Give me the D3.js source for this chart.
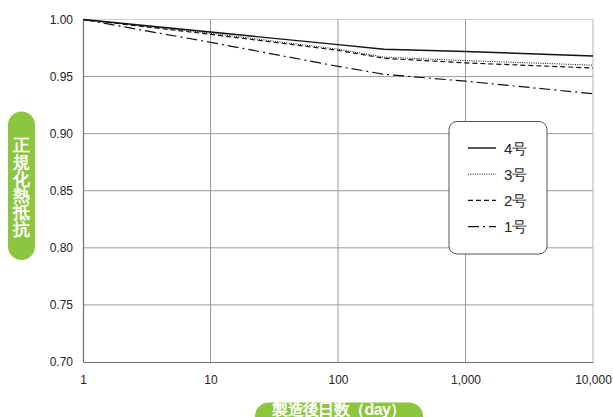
<!DOCTYPE html>
<html>
<head>
<meta charset="utf-8">
<script src="https://cdn.jsdelivr.net/npm/d3@7"></script>
<style>
  body { margin: 0; background: #fff; }
  text { font-family: "Liberation Sans", Arial, sans-serif; }
</style>
</head>
<body>
<script>
// days after manufacture and normalized thermal resistance
const days = [1, 10, 100, 230, 1000, 10000]
const no4 = [1.000, 0.989, 0.978, 0.974, 0.972, 0.968]
const no3 = [1.000, 0.988, 0.974, 0.967, 0.964, 0.960]
const no2 = [1.000, 0.987, 0.973, 0.966, 0.962, 0.9575]
const no1 = [1.000, 0.980, 0.959, 0.952, 0.946, 0.935]
const seriesNames = ['4号', '3号', '2号', '1号']
const xTicks = [1, 10, 100, 1000, 10000]
const yTicks = [0.70, 0.75, 0.80, 0.85, 0.90, 0.95, 1.00]

const m = { left: 83, right: 593, top: 19.5, bottom: 362 }

const svg = d3.select('body').append('svg')
    .attr('width', 613)
    .attr('height', 417)

const x = d3.scaleLog().domain([1, 10000]).range([m.left, m.right])
const y = d3.scaleLinear().domain([0.70, 1.00]).range([m.bottom, m.top])

// grid
svg.append('g').selectAll('line')
    .data(yTicks.slice(1))
    .enter()
    .append('line')
        .attr('x1', m.left).attr('x2', m.right)
        .attr('y1', d => y(d)).attr('y2', d => y(d))
        .attr('stroke', d => d === 1 ? '#cfcfcf' : '#9a9a9a')
        .attr('stroke-width', 1)

svg.append('g').selectAll('line')
    .data(xTicks.slice(1))
    .enter()
    .append('line')
        .attr('x1', d => x(d)).attr('x2', d => x(d))
        .attr('y1', m.top).attr('y2', m.bottom)
        .attr('stroke', d => d === 10000 ? '#b5b5b5' : '#9a9a9a')
        .attr('stroke-width', 1)

// axes
const fmt = d3.format(',')
const xAxis = svg.append('g')
    .attr('transform', `translate(0,${m.bottom})`)
    .call(d3.axisBottom(x).tickValues(xTicks).tickFormat(fmt).tickSize(0).tickPadding(13))
xAxis.select('.domain').attr('stroke', '#6e6e6e').attr('stroke-width', 1.2)
xAxis.selectAll('text').attr('font-size', 12).attr('fill', '#222')

const yAxis = svg.append('g')
    .attr('transform', `translate(${m.left},0)`)
    .call(d3.axisLeft(y).tickValues(yTicks).tickFormat(d3.format('.2f')).tickSize(0).tickPadding(10))
yAxis.select('.domain').attr('stroke', '#6e6e6e').attr('stroke-width', 1.2)
yAxis.selectAll('text').attr('font-size', 12).attr('fill', '#222')

// lines
const styles = [
    { data: no4, dash: null, w: 1.4 },
    { data: no3, dash: '1,1.3', w: 1 },
    { data: no2, dash: '5,3', w: 1.2 },
    { data: no1, dash: '11,4,2,4', w: 1.2 }
]

const line = d3.line()
    .x((d, i) => x(days[i]))
    .y(d => y(d))

svg.append('g').selectAll('path')
    .data(styles)
    .enter()
    .append('path')
        .attr('d', d => line(d.data))
        .attr('fill', 'none')
        .attr('stroke', '#111')
        .attr('stroke-width', d => d.w)
        .attr('stroke-dasharray', d => d.dash)

// legend
const lg = svg.append('g')
lg.append('rect')
    .attr('x', 449).attr('y', 121.5)
    .attr('width', 98).attr('height', 132.5)
    .attr('rx', 8)
    .attr('fill', '#fff')
    .attr('stroke', '#555')
    .attr('stroke-width', 1)

const rows = lg.selectAll('.row')
    .data(styles)
    .enter()
    .append('g')
        .attr('transform', (d, i) => `translate(0,${148 + i * 26.2})`)

rows.append('line')
    .attr('x1', 468).attr('x2', 496)
    .attr('stroke', '#111')
    .attr('stroke-width', d => d.w)
    .attr('stroke-dasharray', d => d.dash)

rows.append('text')
    .attr('x', 504).attr('y', 5.5)
    .attr('font-size', 15)
    .attr('font-weight', 500)
    .attr('font-family', '"Noto Sans CJK JP", sans-serif')
    .attr('fill', '#222')
    .text((d, i) => seriesNames[i])

// axis title pills
const green = '#8cc63e'
svg.append('rect')
    .attr('x', 8).attr('y', 111.5)
    .attr('width', 27).attr('height', 148.5)
    .attr('rx', 13.5)
    .attr('fill', green)

const yTitle = '正規化熱抵抗'.split('')
svg.append('g').selectAll('text')
    .data(yTitle)
    .enter()
    .append('text')
        .attr('x', 21.5)
        .attr('y', (d, i) => 151 + i * 16.8)
        .attr('text-anchor', 'middle')
        .attr('font-size', 16.5)
        .attr('font-weight', 'bold')
        .attr('font-family', '"Noto Sans CJK JP", sans-serif')
        .attr('fill', '#fff')
        .text(d => d)

svg.append('rect')
    .attr('x', 255).attr('y', 402.5)
    .attr('width', 168).attr('height', 28)
    .attr('rx', 14)
    .attr('fill', green)

svg.append('text')
    .attr('x', 339).attr('y', 415)
    .attr('text-anchor', 'middle')
    .attr('font-size', 16)
    .attr('font-weight', 'bold')
    .attr('letter-spacing', -0.6)
    .attr('font-family', '"Noto Sans CJK JP", sans-serif')
    .attr('fill', '#fff')
    .text('製造後日数（day）')
</script>
</body>
</html>
